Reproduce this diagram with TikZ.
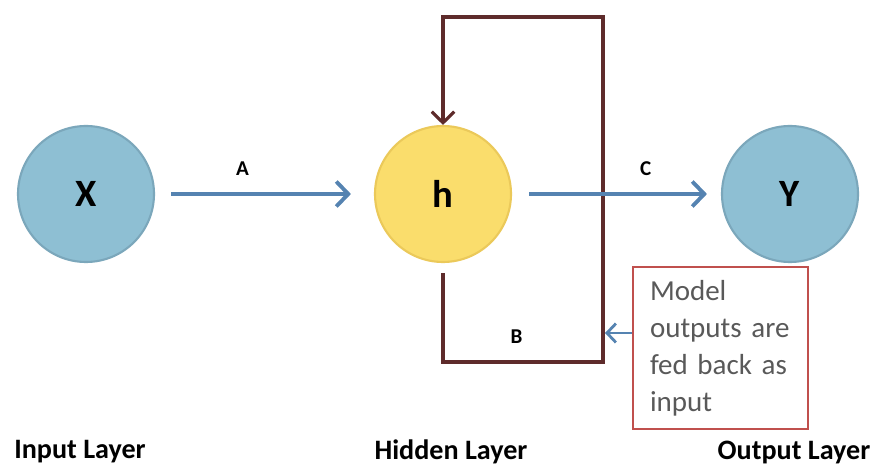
\documentclass[tikz,border=0pt]{standalone}
\usepackage{fontspec}
\setmainfont{Carlito}
\usetikzlibrary{arrows.meta}
\definecolor{unitblue}{HTML}{8EBFD3}
\definecolor{unitblueedge}{HTML}{7BA7BB}
\definecolor{unityellow}{HTML}{FADD6C}
\definecolor{unityellowedge}{HTML}{EBC95A}
\definecolor{flowblue}{HTML}{5583B1}
\definecolor{loopbrown}{HTML}{5E2B2B}
\definecolor{notered}{HTML}{C0504D}
\definecolor{notegrey}{HTML}{595959}
\tikzset{
  unit/.style={
    circle,
    draw,
    line width=1.2pt,
    minimum size=27.2mm,
    inner sep=0pt,
    font=\fontsize{22}{26}\selectfont\bfseries
  },
  inunit/.style={unit, fill=unitblue, draw=unitblueedge},
  hidunit/.style={unit, fill=unityellow, draw=unityellowedge},
  flow/.style={-{Straight Barb[length=2.4mm, width=5mm]}, line width=2.2pt, draw=flowblue},
  feedback/.style={line width=1.8pt, draw=loopbrown},
  weight/.style={font=\fontsize{12}{14}\selectfont\bfseries},
  caption/.style={font=\fontsize{16}{19}\selectfont\bfseries},
  notebox/.style={
    rectangle,
    draw=notered,
    line width=1pt,
    align=left,
    text width=28.2mm,
    minimum height=32.4mm,
    inner xsep=3.4mm,
    text=notegrey,
    font=\fontsize{16.5}{21}\selectfont
  }
}
\begin{document}
\begin{tikzpicture}[x=0.2mm,y=-0.2mm]
\useasboundingbox (0,0) rectangle (877,467);

\node[inunit] (x) at (86,194) {X};
\node[hidunit] (h) at (443,194) {h};
\node[inunit] (y) at (790,194) {Y};

% recurrent loop round the hidden unit
\coordinate (loopbl) at (443,362);
\coordinate (loopbr) at (603,362);
\coordinate (looptr) at (603,17);
\coordinate (looptl) at (443,17);
\draw[feedback, -{Straight Barb[length=2.2mm, width=4.5mm]}, shorten <=2mm]
  (h.south) -- (loopbl) -- node[weight, above=2.2mm, pos=0.46] {B} (loopbr)
  -- (looptr) -- (looptl) -- (h.north);

\draw[flow, shorten <=3.2mm, shorten >=4.6mm] (x) -- node[weight, above=2.2mm, pos=0.4] {A} (h);
\draw[flow, shorten <=3.4mm, shorten >=2.8mm] (h) -- node[weight, above=2.2mm, pos=0.64] {C} (y);

\node[notebox] (note) at (720.5,348) {Model\\outputs are\\fed back as\\input};
\coordinate (backin) at (605,333);
\draw[flow, line width=1.6pt, -{Straight Barb[length=1.8mm, width=3.8mm]}] (note.west |- backin) -- (backin);

\node[caption] (incap) at (80,452) {Input Layer};
\node[caption] (hidcap) at (451,452) {Hidden Layer};
\node[caption] (outcap) at (794,452) {Output Layer};
\end{tikzpicture}
\end{document}
